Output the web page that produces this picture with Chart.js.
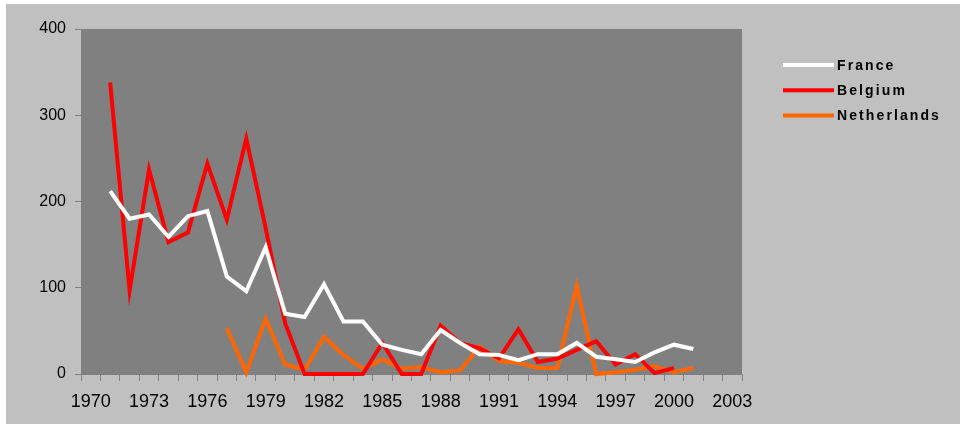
<!DOCTYPE html>
<html>
<head>
<meta charset="utf-8">
<script src="https://cdn.jsdelivr.net/npm/chart.js@4.4.1/dist/chart.umd.min.js"></script>
<style>
  html, body { margin: 0; padding: 0; background: #ffffff; }
  #wrap { position: relative; width: 960px; height: 424px; }
  canvas { display: block; }
</style>
</head>
<body>
<div id="wrap"><canvas id="c" width="960" height="424"></canvas></div>
<script>
const years = [];
for (let y = 1970; y <= 2003; y++) years.push(String(y));

const france = [null, 212, 180, 185, 159, 183, 189, 113, 96, 147, 70, 66, 104, 61, 61, 34, 28, 23, 51, 36, 23, 22, 16, 23, 23, 36, 20, 17, 14, 25, 34, 29, null, null];
const belgium = [null, 338, 97, 237, 153, 164, 244, 179, 273, 169, 59, 0, 0, 0, 0, 36, 0, 0, 56, 36, 30, 18, 52, 14, 18, 28, 38, 11, 23, 1, 7, null, null, null];
const netherlands = [null, null, null, null, null, null, null, 53, 2, 64, 11, 5, 43, 22, 6, 17, 6, 8, 2, 4, 32, 15, 13, 7, 7, 102, 0, 2, 5, 9, 2, 7, null, null];

const seriesNames = ['France', 'Belgium', 'Netherlands'];
const seriesColors = ['#ffffff', '#ff0000', '#ff6600'];
const yTicks = [0, 100, 200, 300, 400];

const AREA = { left: 81, top: 29, right: 742, bottom: 374 };

const bgPlugin = {
  id: 'bg',
  beforeDraw(chart) {
    const ctx = chart.ctx;
    ctx.save();
    ctx.fillStyle = '#ffffff';
    ctx.fillRect(0, 0, chart.width, chart.height);
    ctx.fillStyle = '#c0c0c0';
    ctx.fillRect(6, 4, chart.width - 6, chart.height - 4);
    const a = chart.chartArea;
    ctx.fillStyle = '#808080';
    ctx.fillRect(a.left, a.top, a.right - a.left, a.bottom - a.top);
    ctx.restore();
  },
  afterDraw(chart) {
    const ctx = chart.ctx;
    ctx.save();
    ctx.font = 'bold 14px "Liberation Sans", Arial, sans-serif';
    ctx.textBaseline = 'middle';
    ctx.fillStyle = '#000000';
    chart.data.datasets.forEach((ds, i) => {
      const y = 65 + i * 25.3;
      ctx.strokeStyle = ds.borderColor;
      ctx.lineWidth = 4;
      ctx.lineCap = 'butt';
      ctx.beginPath();
      ctx.moveTo(783, y);
      ctx.lineTo(834, y);
      ctx.stroke();
      let x = 837;
      for (const ch of ds.label) {
        ctx.fillText(ch, x, y + 1);
        x += ctx.measureText(ch).width + 2.1;
      }
    });
    ctx.restore();
  }
};

const datasets = [france, belgium, netherlands].map((d, i) => ({
  label: seriesNames[i],
  data: d,
  borderColor: seriesColors[i],
  backgroundColor: seriesColors[i],
  borderWidth: 4,
  pointRadius: 0,
  pointHoverRadius: 0,
  tension: 0,
  spanGaps: false,
  borderJoinStyle: 'miter',
  clip: false
}));

new Chart(document.getElementById('c'), {
  type: 'line',
  data: { labels: years, datasets: datasets },
  options: {
    responsive: false,
    animation: false,
    devicePixelRatio: 1,
    layout: { padding: { left: 0, top: AREA.top, right: 960 - AREA.right, bottom: 0 } },
    plugins: { legend: { display: false }, tooltip: { enabled: false }, title: { display: false } },
    scales: {
      x: {
        type: 'category',
        offset: true,
        afterFit(s) { s.height = 424 - AREA.bottom; },
        grid: {
          offset: true,
          display: true,
          drawOnChartArea: false,
          drawTicks: true,
          tickLength: 7,
          color: '#808080',
          lineWidth: 1
        },
        border: { display: true, color: '#808080', width: 1 },
        ticks: {
          autoSkip: false,
          maxRotation: 0,
          minRotation: 0,
          padding: 10,
          color: '#000000',
          font: { family: '"Liberation Sans Narrow", "Liberation Sans", Arial, sans-serif', size: 18 },
          callback(v, i) { return i % 3 === 0 ? this.getLabelForValue(v) : ''; }
        }
      },
      y: {
        min: 0,
        max: 400,
        afterFit(s) { s.width = AREA.left; },
        afterBuildTicks(s) { s.ticks = yTicks.map(v => ({ value: v })); },
        grid: {
          display: true,
          drawOnChartArea: false,
          drawTicks: true,
          tickLength: 6,
          color: '#808080',
          lineWidth: 1
        },
        border: { display: true, color: '#808080', width: 1 },
        ticks: {
          padding: 9,
          color: '#000000',
          font: { family: '"Liberation Sans", Arial, sans-serif', size: 16 }
        }
      }
    }
  },
  plugins: [bgPlugin]
});
</script>
</body>
</html>
